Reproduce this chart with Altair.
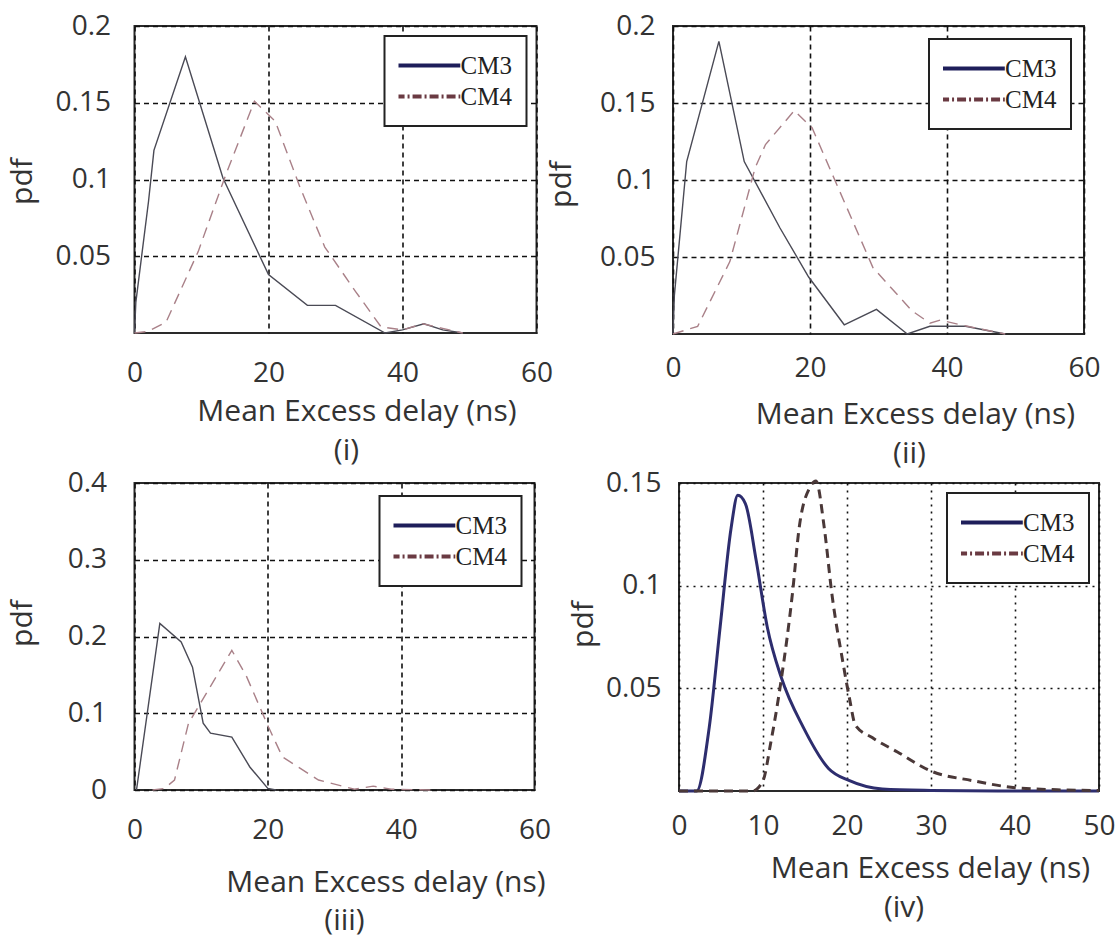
import altair as alt
import pandas as pd

SERIES = ["CM3", "CM4"]
X_TITLE = "Mean Excess delay (ns)"
Y_TITLE = "pdf"
PANEL_LABELS = ["(i)", "(ii)", "(iii)", "(iv)"]

# ---- panel (i) ----
I_CM3_X = [0, 0.2, 2.1, 2.9, 7.6, 13.2, 20, 25.8, 30, 37.4, 40, 43.2, 46, 49]
I_CM3_Y = [0, 0.02, 0.086, 0.119, 0.18, 0.101, 0.038, 0.018, 0.018, 0.0, 0.002, 0.006, 0.002, 0.0]
I_CM4_X = [0, 2, 4.7, 9.5, 13.7, 17.9, 21, 24.7, 28.4, 33, 36.8, 40, 43, 46, 49]
I_CM4_Y = [0, 0.001, 0.007, 0.053, 0.104, 0.151, 0.138, 0.095, 0.056, 0.027, 0.004, 0.002, 0.006, 0.003, 0]

# ---- panel (ii) ----
II_CM3_X = [0, 0.2, 2.0, 6.7, 10.4, 15.6, 19.8, 25, 29.7, 34.2, 37.5, 42.7, 48.5]
II_CM3_Y = [0, 0.025, 0.112, 0.19, 0.112, 0.069, 0.037, 0.006, 0.016, 0, 0.005, 0.005, 0]
II_CM4_X = [0, 3.6, 8.3, 12, 13.5, 17.7, 20.3, 24.5, 29.2, 34.9, 37.5, 39, 43, 48.5]
II_CM4_Y = [0, 0.005, 0.047, 0.108, 0.123, 0.145, 0.134, 0.091, 0.043, 0.015, 0.007, 0.009, 0.005, 0]

# ---- panel (iii) ----
III_CM3_X = [0.3, 3.8, 7.0, 8.7, 10.3, 11.4, 14.6, 17.3, 20, 21.2]
III_CM3_Y = [0, 0.217, 0.193, 0.16, 0.087, 0.074, 0.069, 0.030, 0.002, 0]
III_CM4_X = [2.7, 4.5, 6.0, 8.1, 11.4, 14.6, 16.8, 20.1, 22.2, 27.6, 33, 35.8, 38.5, 44.4]
III_CM4_Y = [0, 0.002, 0.013, 0.087, 0.135, 0.182, 0.148, 0.082, 0.043, 0.013, 0.001, 0.005, 0.001, 0]

# ---- panel (iv) ----
IV_CM3_X = [0, 2.1, 3.6, 4.9, 6.2, 7.0, 7.9, 9.2, 10.5, 12.2, 14.8, 17.8, 20.3, 24.2, 30, 38, 50]
IV_CM3_Y = [0, 0, 0.031, 0.080, 0.128, 0.144, 0.140, 0.112, 0.080, 0.055, 0.031, 0.011, 0.005, 0.001, 0.0003, 0, 0]
IV_CM4_X = [0, 8.75, 10, 10.9, 12.2, 13.5, 14.3, 15.6, 16.3, 17.3, 18.2, 19.5, 20.3, 21, 23, 26, 30, 35, 40, 45, 50]
IV_CM4_Y = [0, 0, 0.005, 0.023, 0.055, 0.096, 0.128, 0.148, 0.151, 0.128, 0.096, 0.063, 0.045, 0.032, 0.026, 0.019, 0.0097, 0.005, 0.0016, 0.0006, 0.0002]

FONT = "Open Sans"
TEXT = "#333333"


def make_panel(label, cm3x, cm3y, cm4x, cm4y, cfg):
    d3 = pd.DataFrame({"x": cm3x, "y": cm3y, "series": "CM3"})
    d4 = pd.DataFrame({"x": cm4x, "y": cm4y, "series": "CM4"})
    dall = pd.concat([d3, d4], ignore_index=True)

    x = alt.X("x:Q", scale=alt.Scale(domain=cfg["xdom"], nice=False, zero=False),
              axis=alt.Axis(values=cfg["xvals"], title=X_TITLE, gridDash=cfg["gd"],
                            labelPadding=cfg["xlp"], titleX=cfg["xtx"], titleY=cfg["xty"],
                            titleAlign="center", titleBaseline="middle"))
    y = alt.Y("y:Q", scale=alt.Scale(domain=cfg["ydom"], nice=False, zero=False),
              axis=alt.Axis(values=cfg["yvals"], format=".2~f", title=Y_TITLE, gridDash=cfg["gd"],
                            labelPadding=cfg["ylp"], titleX=cfg["ytx"], titleY=cfg["yty"],
                            titleAlign="center", titleBaseline="middle", titleAngle=270))

    leg = alt.Legend(title=None, orient="top-right", offset=cfg["lo"], fillColor="white",
                     strokeColor="#222222", padding=14, rowPadding=0, clipHeight=31,
                     symbolType="M-1.19,0H1.3", symbolSize=2704, symbolStrokeWidth=4,
                     symbolOpacity=1, labelFont="Liberation Serif", labelFontSize=25,
                     labelColor="#222222", labelOffset=6)

    l3 = alt.Chart(d3).mark_line(color=cfg["c3"], strokeWidth=cfg["w"],
                                 interpolate=cfg["interp"]).encode(x=x, y=y)
    l4 = alt.Chart(d4).mark_line(color=cfg["c4"], strokeWidth=cfg["w"], strokeDash=cfg["dash"],
                                 interpolate=cfg["interp"]).encode(x=x, y=y)
    lg = alt.Chart(dall).mark_line(opacity=0, strokeWidth=4).encode(
        x=x, y=y,
        color=alt.Color("series:N", scale=alt.Scale(domain=SERIES, range=["#1e1e5a", "#6a3a42"]), legend=leg),
        strokeDash=alt.StrokeDash("series:N", scale=alt.Scale(domain=SERIES, range=[[1, 0], [9, 3, 2, 3]]), legend=leg),
    )
    return alt.layer(l3, l4, lg).properties(
        width=cfg["w_"], height=cfg["h_"],
        title=alt.TitleParams(label, orient="bottom", anchor="middle", frame="group",
                              dx=cfg["tdx"], offset=cfg["toff"], font=FONT, fontSize=30,
                              fontWeight="normal", color=TEXT),
    )


base = dict(c3="#4a4a55", c4="#a98088", w=1.4, dash=[11, 7], interp="linear", gd=[5, 4])
P1 = dict(base, w_=402, h_=307, xdom=[0, 60], xvals=[0, 20, 40, 60], ydom=[0, 0.2],
          yvals=[0.05, 0.1, 0.15, 0.2], xlp=26, xtx=222, xty=78, ylp=24, ytx=-112, yty=155,
          lo=10, tdx=11, toff=10)
P2 = dict(base, w_=411, h_=308, xdom=[0, 60], xvals=[0, 20, 40, 60], ydom=[0, 0.2],
          yvals=[0.05, 0.1, 0.15, 0.2], xlp=20, xtx=242, xty=80, ylp=18, ytx=-112, yty=158,
          lo=13, tdx=31, toff=10)
P3 = dict(base, w_=400, h_=307, xdom=[0, 60], xvals=[0, 20, 40, 60], ydom=[0, 0.4],
          yvals=[0, 0.1, 0.2, 0.3, 0.4], xlp=26, xtx=251, xty=92, ylp=28, ytx=-112, yty=140,
          lo=13, tdx=10, toff=9)
P4 = dict(c3="#2d2d6e", c4="#4a3838", w=3, dash=[9, 6], interp="monotone", gd=[2, 5],
          w_=420, h_=308, xdom=[0, 50], xvals=[0, 10, 20, 30, 40, 50], ydom=[0, 0.15],
          yvals=[0.05, 0.1, 0.15], xlp=21, xtx=251, xty=77, ylp=18, ytx=-96, yty=141,
          lo=10, tdx=15, toff=10)

p1 = make_panel(PANEL_LABELS[0], I_CM3_X, I_CM3_Y, I_CM4_X, I_CM4_Y, P1)
p2 = make_panel(PANEL_LABELS[1], II_CM3_X, II_CM3_Y, II_CM4_X, II_CM4_Y, P2)
p3 = make_panel(PANEL_LABELS[2], III_CM3_X, III_CM3_Y, III_CM4_X, III_CM4_Y, P3)
p4 = make_panel(PANEL_LABELS[3], IV_CM3_X, IV_CM3_Y, IV_CM4_X, IV_CM4_Y, P4)

row1 = alt.hconcat(p1, p2, spacing=-9.5).resolve_scale(color="independent", strokeDash="independent")
row2 = alt.hconcat(p3, p4, spacing=14.5).resolve_scale(color="independent", strokeDash="independent")

chart = (
    alt.vconcat(row1, row2, spacing=-2)
    .resolve_scale(color="independent", strokeDash="independent")
    .properties(padding={"left": 6.5, "top": 11, "right": 0, "bottom": 4}, background="white")
    .configure_view(stroke="#2a2a2a", strokeWidth=2)
    .configure_axis(labelFont=FONT, labelFontSize=28, labelColor=TEXT, titleFont=FONT,
                    titleFontSize=30, titleFontWeight="normal", titleColor=TEXT,
                    domain=False, ticks=False, grid=True, gridColor="#111111", gridWidth=1.6,
                    gridOpacity=1, labelFlush=False, labelOverlap=False)
    .configure_legend(strokeWidth=2)
)

chart.save("out.html", embed_options={"renderer": "svg", "actions": False})
